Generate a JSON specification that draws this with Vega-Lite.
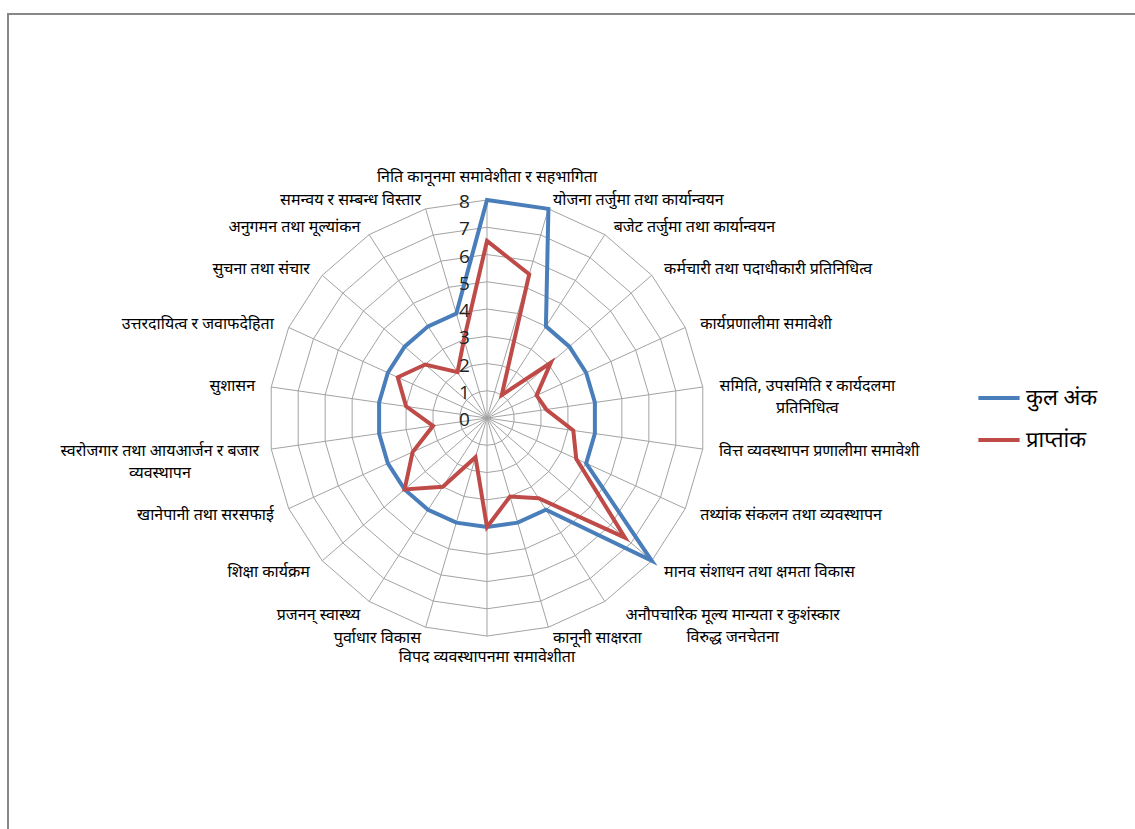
{
  "$schema": "https://vega.github.io/schema/vega-lite/v6.json",
  "width": 1130,
  "height": 818,
  "autosize": {"type": "none"},
  "padding": {"left": 8, "top": 14, "right": -3, "bottom": -3},
  "background": "white",
  "config": {"view": {"stroke": "#878787", "strokeWidth": 2}, "font": "Noto Sans"},
  "datasets": {
    "scores": [
      {"idx": 0, "category": "निति कानूनमा समावेशीता र सहभागिता", "कुल अंक": 8, "प्राप्तांक": 6.5},
      {"idx": 1, "category": "योजना तर्जुमा तथा कार्यान्वयन", "कुल अंक": 8, "प्राप्तांक": 5.5},
      {"idx": 2, "category": "बजेट तर्जुमा तथा कार्यान्वयन", "कुल अंक": 4, "प्राप्तांक": 1},
      {"idx": 3, "category": "कर्मचारी तथा पदाधीकारी प्रतिनिधित्व", "कुल अंक": 4, "प्राप्तांक": 3.1},
      {"idx": 4, "category": "कार्यप्रणालीमा समावेशी", "कुल अंक": 4, "प्राप्तांक": 2},
      {"idx": 5, "category": "समिति, उपसमिति र कार्यदलमा\nप्रतिनिधित्व", "कुल अंक": 4, "प्राप्तांक": 2.2},
      {"idx": 6, "category": "वित्त व्यवस्थापन प्रणालीमा समावेशी", "कुल अंक": 4, "प्राप्तांक": 3.2},
      {"idx": 7, "category": "तथ्यांक संकलन तथा व्यवस्थापन", "कुल अंक": 4, "प्राप्तांक": 3.6},
      {"idx": 8, "category": "मानव संशाधन तथा क्षमता विकास", "कुल अंक": 8, "प्राप्तांक": 6.7},
      {"idx": 9, "category": "अनौपचारिक मूल्य मान्यता र कुशंस्कार\nविरुद्ध जनचेतना", "कुल अंक": 4, "प्राप्तांक": 3.5},
      {"idx": 10, "category": "कानूनी साक्षरता", "कुल अंक": 4, "प्राप्तांक": 3},
      {"idx": 11, "category": "विपद व्यवस्थापनमा समावेशीता", "कुल अंक": 4, "प्राप्तांक": 4},
      {"idx": 12, "category": "पुर्वाधार विकास", "कुल अंक": 4, "प्राप्तांक": 1.5},
      {"idx": 13, "category": "प्रजनन् स्वास्थ्य", "कुल अंक": 4, "प्राप्तांक": 3},
      {"idx": 14, "category": "शिक्षा कार्यक्रम", "कुल अंक": 4, "प्राप्तांक": 4},
      {"idx": 15, "category": "खानेपानी तथा सरसफाई", "कुल अंक": 4, "प्राप्तांक": 3},
      {"idx": 16, "category": "स्वरोजगार तथा आयआर्जन र बजार\nव्यवस्थापन", "कुल अंक": 4, "प्राप्तांक": 2},
      {"idx": 17, "category": "सुशासन", "कुल अंक": 4, "प्राप्तांक": 3},
      {"idx": 18, "category": "उत्तरदायित्व र जवाफदेहिता", "कुल अंक": 4, "प्राप्तांक": 3.6},
      {"idx": 19, "category": "सुचना तथा संचार", "कुल अंक": 4, "प्राप्तांक": 3},
      {"idx": 20, "category": "अनुगमन तथा मूल्यांकन", "कुल अंक": 4, "प्राप्तांक": 2},
      {"idx": 21, "category": "समन्वय र सम्बन्ध विस्तार", "कुल अंक": 4, "प्राप्तांक": 3}
    ],
    "ticks": [{"v": 0}, {"v": 1}, {"v": 2}, {"v": 3}, {"v": 4}, {"v": 5}, {"v": 6}, {"v": 7}, {"v": 8}]
  },
  "layer": [
    {
      "data": {"name": "scores"},
      "transform": [
        {"calculate": "sequence(1, 9)", "as": "lv"},
        {"flatten": ["lv"]},
        {"calculate": "datum.idx * 2 * PI / 22", "as": "a"},
        {"calculate": "datum.lv * sin(datum.a)", "as": "px"},
        {"calculate": "datum.lv * cos(datum.a)", "as": "py"}
      ],
      "mark": {"type": "line", "interpolate": "linear-closed", "stroke": "#A3A3A3", "strokeWidth": 1},
      "encoding": {
        "x": {"field": "px", "type": "quantitative", "scale": {"domain": [-17.578, 23.89], "nice": false, "zero": false}, "axis": null},
        "y": {"field": "py", "type": "quantitative", "scale": {"domain": [-15.19, 14.826], "nice": false, "zero": false}, "axis": null},
        "detail": {"field": "lv", "type": "nominal"},
        "order": {"field": "idx", "type": "quantitative"}
      }
    },
    {
      "data": {"name": "scores"},
      "transform": [
        {"calculate": "datum.idx * 2 * PI / 22", "as": "a"},
        {"calculate": "0", "as": "z"},
        {"calculate": "8 * sin(datum.a)", "as": "ex"},
        {"calculate": "8 * cos(datum.a)", "as": "ey"}
      ],
      "mark": {"type": "rule", "stroke": "#A3A3A3", "strokeWidth": 1},
      "encoding": {
        "x": {"field": "z", "type": "quantitative", "scale": {"domain": [-17.578, 23.89], "nice": false, "zero": false}, "axis": null},
        "y": {"field": "z", "type": "quantitative", "scale": {"domain": [-15.19, 14.826], "nice": false, "zero": false}, "axis": null},
        "x2": {"field": "ex"},
        "y2": {"field": "ey"}
      }
    },
    {
      "data": {"name": "scores"},
      "transform": [
        {"fold": ["कुल अंक", "प्राप्तांक"], "as": ["series", "value"]},
        {"calculate": "datum.idx * 2 * PI / 22", "as": "a"},
        {"calculate": "datum.value * sin(datum.a)", "as": "px"},
        {"calculate": "datum.value * cos(datum.a)", "as": "py"}
      ],
      "mark": {"type": "line", "interpolate": "linear-closed", "strokeWidth": 4},
      "encoding": {
        "x": {"field": "px", "type": "quantitative", "scale": {"domain": [-17.578, 23.89], "nice": false, "zero": false}, "axis": null},
        "y": {"field": "py", "type": "quantitative", "scale": {"domain": [-15.19, 14.826], "nice": false, "zero": false}, "axis": null},
        "color": {
          "field": "series",
          "type": "nominal",
          "scale": {"domain": ["कुल अंक", "प्राप्तांक"], "range": ["#4A7EBB", "#BE4B48"]},
          "legend": {
            "title": null,
            "orient": "none",
            "legendX": 968,
            "legendY": 361,
            "symbolType": "stroke",
            "symbolStrokeWidth": 4,
            "symbolSize": 1700,
            "labelFontSize": 22,
            "labelColor": "#000000",
            "rowPadding": 8,
            "labelOffset": 4
          }
        },
        "order": {"field": "idx", "type": "quantitative"}
      }
    },
    {
      "data": {"name": "ticks"},
      "transform": [{"calculate": "0", "as": "z"}],
      "mark": {"type": "text", "align": "right", "baseline": "middle", "dx": -17, "dy": 2, "fontSize": 19, "font": "Open Sans", "color": "#222222"},
      "encoding": {
        "x": {"field": "z", "type": "quantitative", "scale": {"domain": [-17.578, 23.89], "nice": false, "zero": false}, "axis": null},
        "y": {"field": "v", "type": "quantitative", "scale": {"domain": [-15.19, 14.826], "nice": false, "zero": false}, "axis": null},
        "text": {"field": "v", "type": "quantitative"}
      }
    },
    {
      "data": {"name": "scores"},
      "transform": [
        {"calculate": "datum.idx * 2 * PI / 22", "as": "a"},
        {"calculate": "8.6 * sin(datum.a)", "as": "lx"},
        {"calculate": "8.6 * cos(datum.a)", "as": "ly"}
      ],
      "mark": {
        "type": "text",
        "baseline": "middle",
        "fontSize": 16,
        "lineHeight": 22,
        "lineBreak": "\n",
        "color": "#000000",
        "align": {"expr": "(abs(sin(datum.a)) < 0.05 || indexof(datum.category, '\\n') >= 0) ? 'center' : (sin(datum.a) > 0 ? 'left' : 'right')"},
        "dx": {"expr": "indexof(datum.category, '\\n') >= 0 ? (sin(datum.a) > 0 ? 1 : -1) * indexof(datum.category, '\\n') * 3.4 : 0"},
        "dy": {"expr": "datum.idx == 0 ? -7 : (datum.idx == 11 ? 5 : (cos(datum.a) > 0 ? 7 * cos(datum.a) : (cos(datum.a) < -0.9 ? -5 : 0)))"}
      },
      "encoding": {
        "x": {"field": "lx", "type": "quantitative", "scale": {"domain": [-17.578, 23.89], "nice": false, "zero": false}, "axis": null},
        "y": {"field": "ly", "type": "quantitative", "scale": {"domain": [-15.19, 14.826], "nice": false, "zero": false}, "axis": null},
        "text": {"field": "category", "type": "nominal"}
      }
    }
  ]
}
